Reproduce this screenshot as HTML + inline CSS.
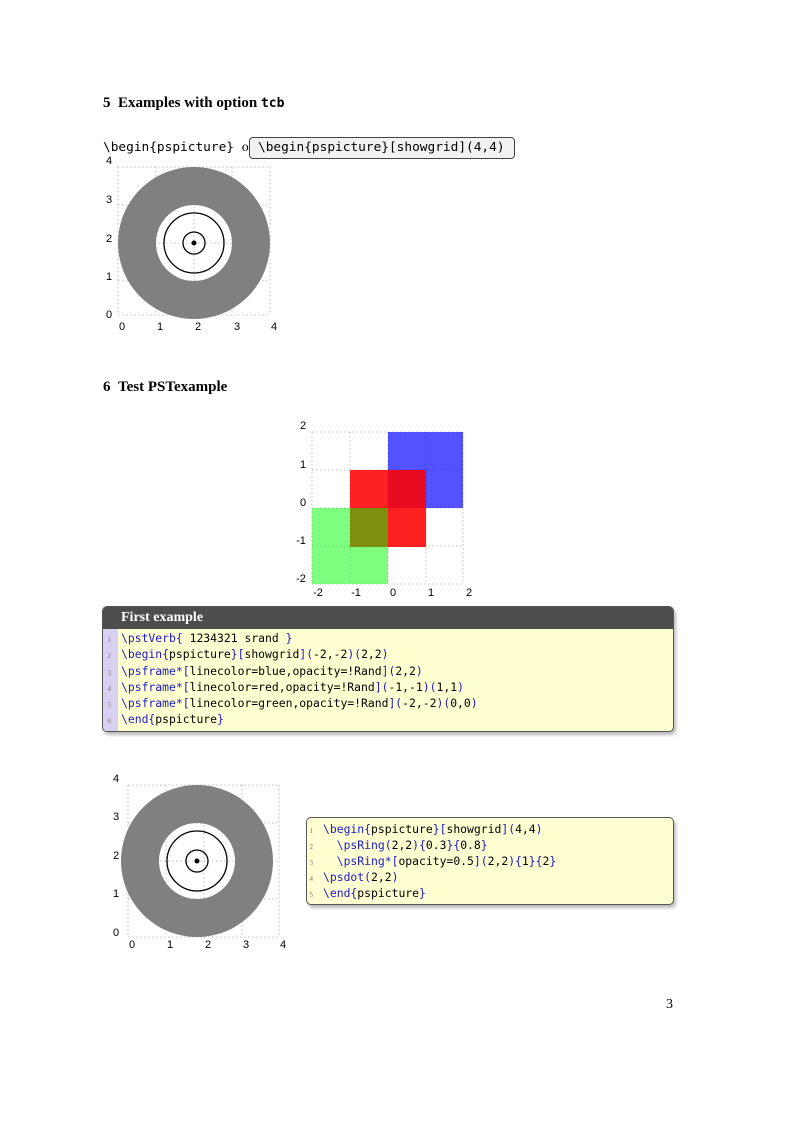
<!DOCTYPE html>
<html><head><meta charset="utf-8"><style>
body{margin:0;background:#fff;width:800px;height:1132px;position:relative;overflow:hidden}
.s{font-family:"Liberation Serif",serif;position:absolute}
.m{font-family:"DejaVu Sans Mono","Liberation Mono",monospace;white-space:nowrap}
.code{position:absolute;font-family:"DejaVu Sans Mono","Liberation Mono",monospace;font-size:11.4px;line-height:16.3px;white-space:pre;color:#000}
.code b{font-weight:normal;color:#1a1ac8}
.code i{font-style:normal;font-size:7px;line-height:0;color:#777;display:inline-block;width:10px;text-align:right;margin-right:10px;font-family:"Liberation Serif",serif}
</style></head><body>
<div class="s" style="left:103px;top:95px;font-size:15px;font-weight:bold">5&nbsp;&nbsp;Examples with option <span class="m" style="font-size:13px">tcb</span></div>
<div class="m" style="position:absolute;left:103px;top:140px;font-size:12.8px">\begin{pspicture} <span style="font-family:'Liberation Serif',serif;font-size:14px">o</span></div>
<div class="m" style="position:absolute;left:249px;top:137px;width:264px;height:20px;border:1px solid #444;border-radius:4px;background:#f2f2f2;font-size:12.8px;line-height:20px;text-indent:8px">\begin{pspicture}[showgrid](4,4)</div>
<div class="s" style="left:103px;top:379px;font-size:15px;font-weight:bold">6&nbsp;&nbsp;Test PSTexample</div>
<div class="s" style="left:666px;top:997px;font-size:14px">3</div>

<svg width="800" height="1132" style="position:absolute;left:0;top:0" xmlns="http://www.w3.org/2000/svg">
<g stroke="#aaa" stroke-width="0.8" stroke-dasharray="1.5,2.5" fill="none">
<path d="M118 167V315M156 167V315M194 167V315M232 167V315M270 167V315M118 167H270M118 205H270M118 243H270M118 281H270M118 315H270"/>
<path d="M312 432V584M350 432V584M388 432V584M426 432V584M463 432V584M312 432H463M312 470H463M312 508H463M312 546H463M312 584H463"/>
<path d="M128 785V937M166 785V937M204 785V937M242 785V937M279 785V937M128 785H279M128 823H279M128 861H279M128 899H279M128 937H279"/>
</g>
<path fill="#808080" fill-rule="evenodd" d="M194 167a76 76 0 1 0 0.01 0zM194 205a38 38 0 1 1 -0.01 0z"/>
<circle cx="194" cy="243" r="30" fill="none" stroke="#000" stroke-width="1.3"/>
<circle cx="194" cy="243" r="11" fill="none" stroke="#000" stroke-width="1.3"/>
<circle cx="194" cy="243" r="2.5"/>
<path fill="#808080" fill-rule="evenodd" d="M197 785a76 76 0 1 0 0.01 0zM197 823a38 38 0 1 1 -0.01 0z"/>
<circle cx="197" cy="861" r="30" fill="none" stroke="#000" stroke-width="1.3"/>
<circle cx="197" cy="861" r="11" fill="none" stroke="#000" stroke-width="1.3"/>
<circle cx="197" cy="861" r="2.5"/>
<rect x="388" y="432" width="75" height="76" fill="rgba(0,0,255,0.68)"/>
<rect x="350" y="470" width="76" height="77" fill="rgba(255,0,0,0.87)"/>
<rect x="312" y="508" width="76" height="76" fill="rgba(0,255,0,0.5)"/>
<g font-family="Liberation Sans,sans-serif" font-size="11" text-anchor="middle">
<text x="122" y="330">0</text><text x="160" y="330">1</text><text x="198" y="330">2</text><text x="237" y="330">3</text><text x="274" y="330">4</text>
<text x="109" y="318">0</text><text x="109" y="280">1</text><text x="109" y="242">2</text><text x="109" y="203">3</text><text x="109" y="164">4</text>
<text x="318" y="596">-2</text><text x="356" y="596">-1</text><text x="393" y="596">0</text><text x="431" y="596">1</text><text x="469" y="596">2</text>
<text x="303" y="429">2</text><text x="303" y="468">1</text><text x="303" y="506">0</text><text x="301" y="544">-1</text><text x="301" y="582">-2</text>
<text x="132" y="948">0</text><text x="170" y="948">1</text><text x="208" y="948">2</text><text x="246" y="948">3</text><text x="283" y="948">4</text>
<text x="116" y="936">0</text><text x="116" y="897">1</text><text x="116" y="859">2</text><text x="116" y="820">3</text><text x="116" y="782">4</text>
</g>
</svg>

<div style="position:absolute;left:102px;top:606px;width:572px;height:126px;border-radius:5px;background:#ffffd2;box-shadow:2px 3px 3px #bbb;overflow:hidden;border:1px solid #555;box-sizing:border-box">
<div style="height:22px;background:#4d4d4d;color:#fff;font-family:'Liberation Serif',serif;font-weight:bold;font-size:14px;line-height:21px;padding-left:18px">First example</div>
<div style="position:absolute;left:0;top:22px;width:15px;bottom:0;background:#d8d0f0"></div>
</div>
<div class="code" style="left:101px;top:630px"><i>1</i><b>\pstVerb{</b> 1234321 srand <b>}</b>
<i>2</i><b>\begin{</b>pspicture<b>}[</b>showgrid<b>](</b>-2,-2<b>)(</b>2,2<b>)</b>
<i>3</i><b>\psframe*[</b>linecolor=blue,opacity=!Rand<b>](</b>2,2<b>)</b>
<i>4</i><b>\psframe*[</b>linecolor=red,opacity=!Rand<b>](</b>-1,-1<b>)(</b>1,1<b>)</b>
<i>5</i><b>\psframe*[</b>linecolor=green,opacity=!Rand<b>](</b>-2,-2<b>)(</b>0,0<b>)</b>
<i>6</i><b>\end{</b>pspicture<b>}</b></div>

<div style="position:absolute;left:306px;top:817px;width:368px;height:88px;border-radius:5px;background:#ffffd2;border:1px solid #555;box-sizing:border-box;box-shadow:2px 3px 3px #bbb"></div>
<div class="code" style="left:303px;top:821px;line-height:16px"><i>1</i><b>\begin{</b>pspicture<b>}[</b>showgrid<b>](</b>4,4<b>)</b>
<i>2</i>  <b>\psRing(</b>2,2<b>){</b>0.3<b>}{</b>0.8<b>}</b>
<i>3</i>  <b>\psRing*[</b>opacity=0.5<b>](</b>2,2<b>){</b>1<b>}{</b>2<b>}</b>
<i>4</i><b>\psdot(</b>2,2<b>)</b>
<i>5</i><b>\end{</b>pspicture<b>}</b></div>
</body></html>
